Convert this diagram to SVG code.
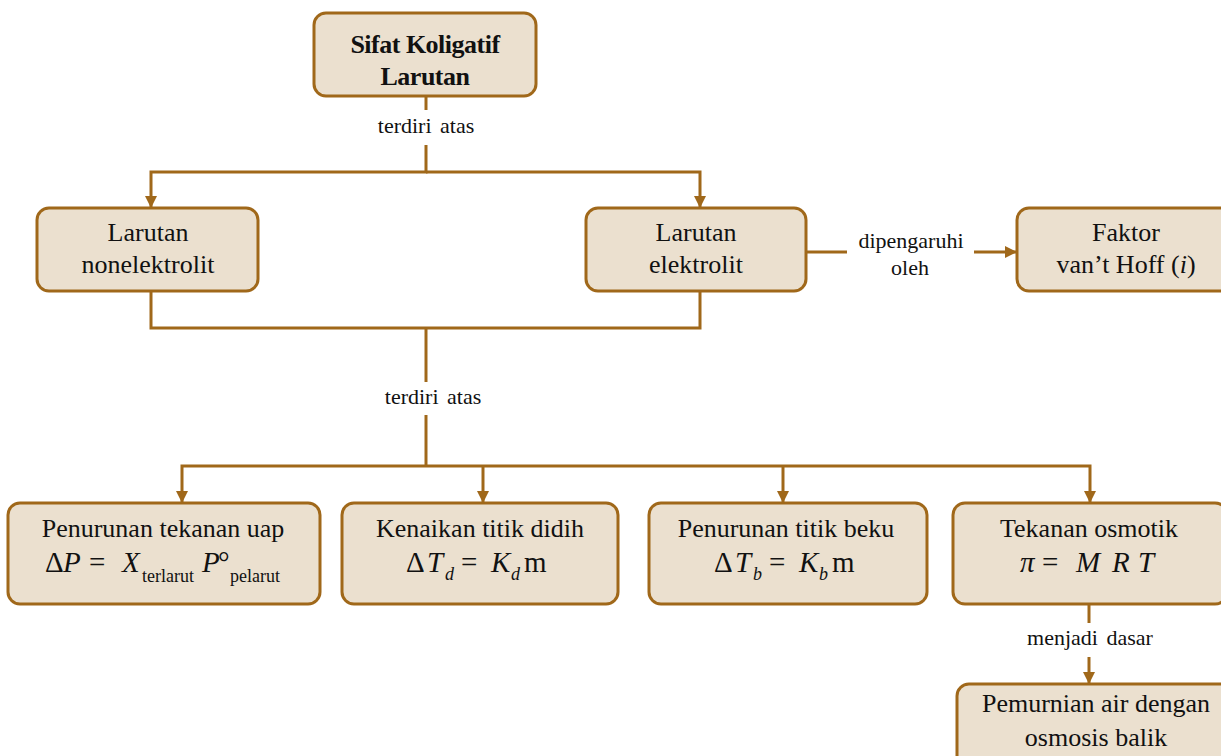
<svg xmlns="http://www.w3.org/2000/svg" width="1221" height="756" viewBox="0 0 1221 756">
<defs>
<marker id="arr" markerUnits="userSpaceOnUse" markerWidth="14" markerHeight="14" refX="12" refY="6" orient="auto">
<path d="M0,0 L12,6 L0,12 Z" fill="#A0681A"/>
</marker>
<style>
.box{fill:#EBE0CF;stroke:#A0681A;stroke-width:3}
.t{font-family:"Liberation Serif","Times New Roman",serif;font-size:26px;fill:#111;text-anchor:middle}
.tb{font-family:"Liberation Serif","Times New Roman",serif;font-size:26px;font-weight:bold;fill:#111;text-anchor:middle;letter-spacing:-0.5px}
.lbl{font-family:"Liberation Serif","Times New Roman",serif;font-size:22px;fill:#111;text-anchor:middle;word-spacing:3px}
.f{font-family:"Liberation Serif","Times New Roman",serif;font-size:29px;fill:#111}
.fi{font-family:"Liberation Serif","Times New Roman",serif;font-size:29px;font-style:italic;fill:#111}
.s{font-family:"Liberation Serif","Times New Roman",serif;font-size:18px;fill:#111}
.si{font-family:"Liberation Serif","Times New Roman",serif;font-size:18px;font-style:italic;fill:#111}
.c{fill:none;stroke:#A0681A;stroke-width:3}
</style>
</defs>
<rect width="1221" height="756" fill="#fff"/>

<g id="connectors">
<path class="c" d="M426,96 V110"/>
<path class="c" d="M426,145 V172 H151 V208" marker-end="url(#arr)"/>
<path class="c" d="M426,172 H700 V208" marker-end="url(#arr)"/>
<path class="c" d="M151,291 V328 H700 V291"/>
<path class="c" d="M426,328 V382"/>
<path class="c" d="M426,415 V466"/>
<path class="c" d="M426,466 H182 V503" marker-end="url(#arr)"/>
<path class="c" d="M483,466 V503" marker-end="url(#arr)"/>
<path class="c" d="M783,466 V503" marker-end="url(#arr)"/>
<path class="c" d="M426,466 H1090 V503" marker-end="url(#arr)"/>
<path class="c" d="M807,252 H847"/>
<path class="c" d="M974,252 H1017" marker-end="url(#arr)"/>
<path class="c" d="M1089,605 V623"/>
<path class="c" d="M1089,657 V684" marker-end="url(#arr)"/>
<text class="lbl" x="426" y="133">terdiri atas</text>
<text class="lbl" x="433" y="404">terdiri atas</text>
<text class="lbl" x="911" y="248">dipengaruhi</text>
<text class="lbl" x="910" y="275">oleh</text>
<text class="lbl" x="1090" y="645">menjadi dasar</text>
</g>

<g id="node-sifat">
<rect class="box" x="314" y="13" width="222" height="83" rx="12"/>
<text class="tb" x="425" y="53">Sifat Koligatif</text>
<text class="tb" x="425" y="85">Larutan</text>
</g>

<g id="node-nonelektrolit">
<rect class="box" x="37" y="208" width="221" height="83" rx="12"/>
<text class="t" x="148" y="241">Larutan</text>
<text class="t" x="148" y="273">nonelektrolit</text>
</g>

<g id="node-elektrolit">
<rect class="box" x="586" y="208" width="220" height="83" rx="12"/>
<text class="t" x="696" y="241">Larutan</text>
<text class="t" x="696" y="273">elektrolit</text>
</g>

<g id="node-faktor">
<rect class="box" x="1017" y="208" width="218" height="83" rx="12"/>
<text class="t" x="1126" y="241">Faktor</text>
<text class="t" x="1126" y="273">van’t Hoff (<tspan font-style="italic">i</tspan>)</text>
</g>

<g id="node-tekanan-uap">
<rect class="box" x="8" y="503" width="312" height="101" rx="12"/>
<text class="t" x="163" y="537">Penurunan tekanan uap</text>
<text class="f" x="45" y="572">Δ</text>
<text class="fi" x="63" y="572">P</text>
<text class="f" x="89" y="572">=</text>
<text class="fi" x="122" y="572">X</text>
<text class="s" x="142" y="582">terlarut</text>
<text class="fi" x="202" y="572">P</text>
<text class="f" x="218" y="572" font-size="24">°</text>
<text class="s" x="230" y="582">pelarut</text>
</g>

<g id="node-titik-didih">
<rect class="box" x="342" y="503" width="276" height="101" rx="12"/>
<text class="t" x="480" y="537">Kenaikan titik didih</text>
<text class="f" x="406" y="572">Δ</text>
<text class="fi" x="427" y="572">T</text>
<text class="si" x="445" y="580">d</text>
<text class="f" x="461" y="572">=</text>
<text class="fi" x="491" y="572">K</text>
<text class="si" x="511" y="580">d</text>
<text class="f" x="524" y="572">m</text>
</g>

<g id="node-titik-beku">
<rect class="box" x="649" y="503" width="278" height="101" rx="12"/>
<text class="t" x="786" y="537">Penurunan titik beku</text>
<text class="f" x="714" y="572">Δ</text>
<text class="fi" x="735" y="572">T</text>
<text class="si" x="753" y="580">b</text>
<text class="f" x="769" y="572">=</text>
<text class="fi" x="799" y="572">K</text>
<text class="si" x="819" y="580">b</text>
<text class="f" x="832" y="572">m</text>
</g>

<g id="node-osmotik">
<rect class="box" x="953" y="503" width="274" height="101" rx="12"/>
<text class="t" x="1089" y="537">Tekanan osmotik</text>
<text class="fi" x="1020" y="572">π</text>
<text class="f" x="1042" y="572">=</text>
<text class="fi" x="1076" y="572">M</text>
<text class="fi" x="1112" y="572">R</text>
<text class="fi" x="1138" y="572">T</text>
</g>

<g id="node-pemurnian">
<rect class="box" x="957" y="684" width="280" height="90" rx="12"/>
<text class="t" x="1096" y="712">Pemurnian air dengan</text>
<text class="t" x="1096" y="746">osmosis balik</text>
</g>
</svg>
